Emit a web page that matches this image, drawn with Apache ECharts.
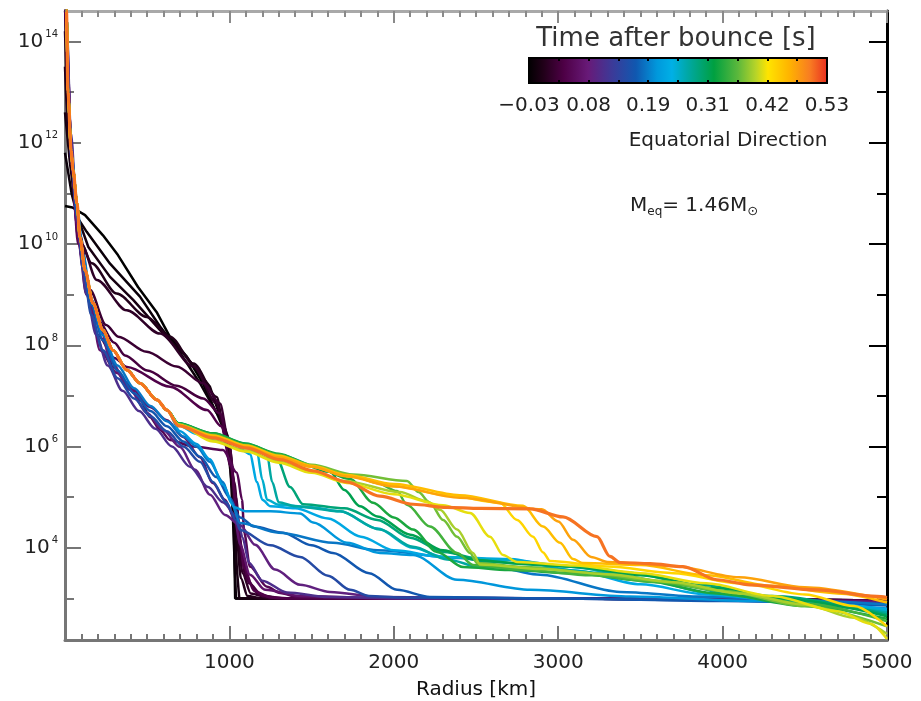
<!DOCTYPE html>
<html>
<head>
<meta charset="utf-8">
<script src="https://cdn.jsdelivr.net/npm/echarts@6/dist/echarts.min.js"></script>
<style>
  html, body { margin: 0; padding: 0; background: #fff; }
  #chart { width: 921px; height: 701px; }
</style>
</head>
<body>
<div id="chart"></div>
<script>
// Density profiles (equatorial direction) of a collapsing 1.46 Msun white dwarf.
// Each profile: [radius in km, log10 density]; colour encodes time after bounce.

// inner core shared by the late profiles
const lateCore = [[0,15.5],[9,14.6],[18,13.0],[37,11.85],[49,11.45],[73,10.8],[91,10.13],[122,9.48],[170,8.83],[231,8.30],[292,7.9],[377,7.51],[456,7.25],[560,6.92],[620,6.72]];

// collapse phase
const pM003 = [[0,10.75],[45,10.72],[122,10.57],[231,10.17],[322,9.78],[444,9.15],[560,8.64],[639,8.16],[742,7.77],[839,7.25],[912,6.72],[961,6.47],[1000,6.1],[1020,5.5],[1028,4.3],[1035,3.0],[3000,3.0],[5000,2.96]];
const pM002 = [[0,11.8],[40,11.0],[80,10.5],[132,10.24],[274,9.61],[456,8.96],[578,8.37],[689,7.91],[821,7.25],[923,6.66],[961,6.37],[1004,5.74],[1022,4.55],[1040,3.0],[3000,3.0],[5000,2.96]];
const pM001 = [[0,12.6],[30,11.6],[70,10.6],[142,9.94],[274,9.35],[416,8.89],[578,8.30],[740,7.77],[882,7.18],[943,6.59],[990,6.0],[1030,4.8],[1045,3.6],[1060,3.0],[3000,3.0],[5000,2.96]];
const p000 = [[0,13.5],[25,12.0],[60,10.8],[100,10.0],[162,9.62],[314,9.02],[497,8.56],[639,8.17],[781,7.64],[923,6.98],[967,6.33],[1010,5.6],[1040,4.4],[1070,3.4],[1110,3.05],[1200,3.0],[3000,3.0],[5000,2.96]];
const p001 = [[0,14.2],[20,12.8],[50,11.3],[100,10.0],[193,9.29],[375,8.69],[578,8.23],[781,7.58],[923,6.85],[965,6.4],[1010,5.7],[1045,4.5],[1080,3.5],[1130,3.1],[1250,3.0],[3000,3.0],[5000,2.96]];
const p002 = [[0,14.8],[18,13.0],[45,11.5],[90,10.2],[150,9.1],[250,8.4],[324,8.17],[497,7.87],[679,7.58],[841,7.25],[943,6.85],[990,6.2],[1030,5.3],[1060,4.2],[1100,3.4],[1180,3.08],[1300,3.0],[3000,3.0],[5000,2.96]];
const p003 = [[0,15.0],[15,13.5],[40,11.6],[80,10.2],[130,9.2],[200,8.5],[300,8.05],[365,7.8],[500,7.5],[680,7.2],[841,6.95],[943,6.65],[1000,6.0],[1040,5.0],[1070,4.0],[1120,3.3],[1200,3.05],[1350,3.0],[3000,3.0],[5000,2.96]];
const p004 = [[0,15.2],[15,13.6],[40,11.7],[80,10.1],[130,9.0],[200,8.2],[300,7.75],[377,7.57],[639,7.18],[864,6.72],[950,6.4],[1010,5.6],[1050,4.5],[1090,3.6],[1150,3.15],[1250,3.02],[1400,3.0],[3000,3.0],[5000,2.96]];

// bounce and early shock
const p005 = [[0,15.3],[15,13.7],[40,11.6],[80,10.0],[134,9.23],[170,8.56],[231,8.24],[292,7.57],[377,7.25],[456,6.92],[517,6.58],[578,6.33],[639,6.13],[780,6.0],[961,5.93],[1046,5.48],[1077,4.95],[1090,4.3],[1125,3.63],[1229,3.23],[1308,3.11],[1411,3.03],[2000,3.0],[3000,3.0],[5000,2.95]];
const p007 = [[0,15.4],[12,14.0],[35,12.0],[70,10.4],[110,9.5],[152,8.83],[213,7.9],[316,7.45],[414,7.12],[517,6.78],[620,6.52],[718,6.19],[821,5.79],[900,5.28],[973,4.95],[1034,4.55],[1065,4.06],[1125,3.47],[1217,3.17],[1430,3.05],[2000,3.0],[3000,3.0],[5000,2.94]];
const p009 = [[0,15.4],[12,14.1],[35,12.1],[70,10.5],[110,9.6],[160,8.9],[220,8.3],[274,7.71],[395,7.12],[499,6.66],[596,6.33],[700,5.99],[791,5.54],[882,5.05],[973,4.65],[1065,4.45],[1156,4.06],[1278,3.57],[1430,3.27],[1612,3.13],[1916,3.03],[3000,3.0],[5000,2.92]];
const p011 = [[0,15.5],[12,14.2],[35,12.2],[75,10.5],[130,9.0],[190,8.2],[260,7.6],[350,7.1],[450,6.7],[550,6.35],[650,6.0],[760,5.6],[870,5.2],[960,4.9],[1050,4.6],[1080,4.2],[1120,3.7],[1200,3.35],[1350,3.12],[1600,3.03],[2200,3.0],[3000,3.0],[5000,2.9]];
const p015 = [[0,15.5],[10,14.5],[20,12.9],[40,11.6],[75,10.5],[110,9.5],[160,8.6],[230,7.9],[320,7.35],[420,6.95],[520,6.6],[620,6.3],[720,6.0],[821,5.7],[900,5.3],[980,4.9],[1040,4.55],[1065,4.35],[1250,4.05],[1430,3.82],[1600,3.45],[1734,3.17],[1850,3.05],[2037,3.02],[3000,3.0],[4000,2.96],[5000,2.88]];
const p017 = [[0,15.5],[10,14.5],[20,12.9],[40,11.7],[75,10.6],[110,9.7],[160,8.8],[230,8.1],[320,7.5],[420,7.05],[520,6.7],[620,6.4],[720,6.1],[821,5.8],[920,5.4],[1000,5.0],[1065,4.6],[1150,4.42],[1326,4.3],[1500,4.05],[1630,3.9],[1850,3.5],[2020,3.17],[2220,3.03],[3000,3.0],[4000,2.95],[5000,2.86]];
const p019 = [[0,15.5],[10,14.5],[20,12.95],[40,11.75],[75,10.7],[110,9.8],[160,8.9],[230,8.2],[320,7.6],[420,7.15],[520,6.8],[620,6.5],[720,6.2],[800,6.0],[880,5.7],[960,5.3],[1010,4.9],[1065,4.49],[1300,4.3],[1630,4.1],[1900,3.95],[2403,3.8],[2890,3.47],[3376,3.13],[3863,3.04],[4400,2.97],[5000,2.88]];
const p021 = lateCore.concat([[700,6.3],[800,6.05],[880,5.75],[960,5.25],[1030,4.8],[1100,4.72],[1250,4.72],[1430,4.68],[1509,4.5],[1715,4.1],[1916,3.9],[2117,3.86],[2385,3.37],[2829,3.17],[3437,3.04],[4200,2.95],[5000,2.8]]);

// expanding shock, post-shock shell
const p023 = lateCore.concat([[690,6.42],[800,6.25],[900,6.12],[1065,5.95],[1125,5.85],[1168,5.3],[1200,4.95],[1250,4.82],[1400,4.78],[1600,4.58],[1800,4.22],[2000,3.95],[2300,3.82],[2700,3.78],[3100,3.55],[3500,3.28],[3900,3.08],[4400,2.95],[5000,2.78]]);
const p025 = lateCore.concat([[690,6.45],[900,6.2],[1100,5.98],[1168,5.9],[1200,5.35],[1229,4.95],[1300,4.85],[1500,4.8],[1673,4.72],[1900,4.38],[2117,4.0],[2300,3.82],[2700,3.76],[3100,3.62],[3500,3.38],[3966,3.08],[4500,2.9],[5000,2.75]]);
const p027 = lateCore.concat([[690,6.45],[900,6.22],[1100,6.02],[1229,5.85],[1260,5.3],[1300,4.9],[1400,4.82],[1673,4.72],[1916,4.36],[2117,4.02],[2324,3.77],[2524,3.62],[2900,3.6],[3300,3.5],[3700,3.3],[4100,3.05],[4600,2.85],[5000,2.72]]);
const p029 = lateCore.concat([[690,6.46],[900,6.24],[1100,6.04],[1290,5.75],[1369,5.2],[1448,4.86],[1700,4.78],[1900,4.55],[2100,4.2],[2300,3.92],[2600,3.72],[3000,3.64],[3400,3.52],[3863,3.27],[4300,3.05],[5000,2.68]]);
const p031 = lateCore.concat([[690,6.46],[900,6.26],[1100,6.06],[1300,5.84],[1612,5.5],[1700,5.14],[1794,4.82],[1900,4.62],[2100,4.26],[2300,3.95],[2500,3.76],[2800,3.68],[3100,3.63],[3500,3.46],[3966,3.2],[4400,2.98],[5000,2.65]]);
const p033 = lateCore.concat([[690,6.45],[900,6.26],[1100,6.05],[1300,5.86],[1500,5.62],[1734,5.36],[1874,4.89],[2000,4.6],[2117,4.36],[2263,3.92],[2421,3.62],[2700,3.56],[3100,3.5],[3500,3.36],[3966,3.1],[4500,2.85],[5000,2.6]]);
const p035 = lateCore.concat([[690,6.44],[900,6.24],[1100,6.03],[1300,5.84],[1500,5.62],[1752,5.42],[1900,5.28],[2020,5.12],[2080,4.85],[2220,4.42],[2385,3.9],[2482,3.66],[2800,3.56],[3200,3.46],[3600,3.32],[4000,3.15],[4500,2.9],[5000,2.55]]);
const p037 = lateCore.concat([[690,6.44],[900,6.22],[1100,6.02],[1300,5.82],[1500,5.64],[1752,5.45],[2080,5.32],[2150,5.1],[2220,4.89],[2300,4.55],[2385,4.22],[2464,3.9],[2506,3.7],[2800,3.62],[3200,3.5],[3600,3.35],[4000,3.15],[4500,2.85],[5000,2.45]]);
const p039 = lateCore.concat([[690,6.43],[900,6.12],[1100,5.92],[1300,5.7],[1500,5.5],[1700,5.32],[2037,5.1],[2200,4.92],[2281,4.75],[2385,4.36],[2482,3.9],[2524,3.67],[2900,3.58],[3300,3.48],[3700,3.32],[4100,3.1],[4500,2.88],[4800,2.62],[5000,2.3]]);
const p041 = lateCore.concat([[690,6.43],[900,6.1],[1100,5.9],[1300,5.68],[1500,5.48],[1715,5.28],[2000,5.06],[2300,4.84],[2464,4.69],[2585,4.22],[2664,3.86],[2750,3.72],[3100,3.65],[3500,3.5],[3900,3.3],[4300,3.05],[4700,2.75],[4900,2.5],[5000,2.2]]);
const p043 = lateCore.concat([[690,6.42],[900,6.2],[1100,6.0],[1300,5.8],[1500,5.6],[1715,5.42],[2000,5.22],[2324,5.04],[2646,4.89],[2750,4.55],[2847,4.22],[2908,3.91],[2950,3.74],[3300,3.63],[3700,3.5],[4100,3.3],[4500,3.08],[4800,2.85],[5000,2.45]]);
const p045 = lateCore.concat([[690,6.42],[900,6.22],[1100,6.02],[1300,5.82],[1500,5.62],[1715,5.44],[2000,5.26],[2400,5.04],[2786,4.83],[2908,4.42],[3011,4.1],[3090,3.78],[3150,3.7],[3500,3.66],[3900,3.46],[4300,3.25],[4700,3.1],[5000,2.92]]);
const p047 = lateCore.concat([[690,6.42],[900,6.19],[1100,5.99],[1300,5.79],[1500,5.6],[1715,5.41],[2000,5.21],[2400,4.99],[2900,4.76],[3000,4.52],[3090,4.16],[3200,3.82],[3300,3.72],[3700,3.64],[4100,3.42],[4500,3.22],[5000,2.98]]);
const p050 = lateCore.concat([[690,6.41],[900,6.17],[1107,5.97],[1308,5.74],[1509,5.52],[1715,5.3],[1916,5.02],[2117,4.86],[2324,4.8],[2524,4.78],[2829,4.77],[3029,4.61],[3236,4.22],[3315,3.83],[3376,3.71],[3559,3.69],[3759,3.63],[3966,3.37],[4167,3.27],[4574,3.17],[4939,3.04],[5000,3.02]]);

// times after bounce [s] and their profiles, in drawing order
const profileTimes = [-0.03,-0.02,-0.01,0.0,0.01,0.02,0.03,0.04,0.05,0.07,0.09,0.11,0.15,0.17,0.19,0.21,0.23,0.25,0.27,0.29,0.31,0.33,0.35,0.37,0.39,0.41,0.43,0.45,0.47,0.50];
const profileData = [pM003,pM002,pM001,p000,p001,p002,p003,p004,p005,p007,p009,p011,p015,p017,p019,p021,p023,p025,p027,p029,p031,p033,p035,p037,p039,p041,p043,p045,p047,p050];

// axis ticks (log10 density) and colour-bar labels
const yMajorExp = [4,6,8,10,12,14];
const yMinorExp = [3,5,7,9,11,13];
const colorbarLabels = ['\u22120.03','','0.08','','0.19','','0.31','','0.42','','0.53'];
const tMin = -0.03, tMax = 0.53;

// colour table
const cmapStops = [
  [0.00,'#000000'],[0.05,'#200018'],[0.12,'#4e0046'],[0.20,'#681a78'],
  [0.28,'#3c3a98'],[0.36,'#1058b0'],[0.43,'#0098dc'],[0.48,'#00b0e6'],
  [0.53,'#00a8a8'],[0.62,'#00a040'],[0.70,'#5cb83c'],[0.76,'#b8d428'],
  [0.80,'#ffe400'],[0.87,'#ffb400'],[0.94,'#f87c22'],[1.00,'#e82c20']
];
function hexToRgb(h){ return [parseInt(h.slice(1,3),16),parseInt(h.slice(3,5),16),parseInt(h.slice(5,7),16)]; }
function cmap(f){
  f = Math.max(0, Math.min(1, f));
  for (let i = 1; i < cmapStops.length; i++) {
    if (f <= cmapStops[i][0]) {
      const a = cmapStops[i-1], b = cmapStops[i];
      const u = (f - a[0]) / (b[0] - a[0]);
      const ca = hexToRgb(a[1]), cb = hexToRgb(b[1]);
      const c = ca.map((v, k) => Math.round(v + (cb[k] - v) * u));
      return 'rgb(' + c.join(',') + ')';
    }
  }
  return cmapStops[cmapStops.length-1][1];
}

const FONT = '"DejaVu Sans", sans-serif';
const yMin = 2.18, yMax = 14.6;

const chart = echarts.init(document.getElementById('chart'), null, {renderer: 'canvas'});

const lastIdx = profileData.length - 1;
const series = profileData.map((d, i) => ({
  type: 'line',
  xAxisIndex: 0,
  yAxisIndex: 0,
  data: d,
  showSymbol: false,
  symbol: 'none',
  smooth: i < 3 ? false : 0.3,
  smoothMonotone: 'x',
  silent: true,
  lineStyle: { color: cmap((profileTimes[i] - tMin) / (tMax - tMin)), width: i === lastIdx ? 3.2 : 2.5 },
  z: 2 + i
}));

const gradStops = cmapStops.map(s => ({ offset: s[0], color: s[1] }));

const yAxisBase = {
  gridIndex: 0, type: 'value', min: yMin, max: yMax,
  splitLine: { show: false }
};

chart.setOption({
  animation: false,
  backgroundColor: '#ffffff',
  grid: [
    { left: 65, top: 11, width: 822, height: 629, containLabel: false, outerBoundsMode: 'none' },
    { left: 529, top: 58, width: 298, height: 25, show: true, outerBoundsMode: 'none',
      borderColor: '#000', borderWidth: 2,
      backgroundColor: new echarts.graphic.LinearGradient(0, 0, 1, 0, gradStops) }
  ],
  xAxis: [
    { gridIndex: 0, type: 'value', min: 0, max: 5000, interval: 1000, position: 'bottom',
      axisLine: { lineStyle: { color: '#767676', width: 3 } },
      axisTick: { inside: true, length: 14, lineStyle: { color: '#767676', width: 2 } },
      minorTick: { show: true, splitNumber: 10, length: 6, lineStyle: { color: '#767676', width: 2 } },
      axisLabel: { margin: 13, fontFamily: FONT, fontSize: 20, color: '#222',
        formatter: v => (v === 0 ? '' : String(v)) },
      splitLine: { show: false },
      name: 'Radius [km]', nameLocation: 'middle', nameGap: 40,
      nameTextStyle: { fontFamily: FONT, fontSize: 20, color: '#111' } },
    { gridIndex: 0, type: 'value', min: 0, max: 5000, interval: 1000, position: 'top',
      axisLine: { lineStyle: { color: '#a9a9a9', width: 3 } },
      axisTick: { inside: true, length: 12, lineStyle: { color: '#8a8a8a', width: 2 } },
      minorTick: { show: true, splitNumber: 10, length: 6, lineStyle: { color: '#8a8a8a', width: 2 } },
      axisLabel: { show: false }, splitLine: { show: false } },
    { gridIndex: 1, type: 'category', boundaryGap: false, data: colorbarLabels, position: 'bottom',
      axisLine: { show: false },
      axisTick: { inside: true, length: 3, interval: 0, lineStyle: { color: '#000', width: 2 } },
      axisLabel: { interval: 0, margin: 13, fontFamily: FONT, fontSize: 20, color: '#222' },
      splitLine: { show: false } },
    { gridIndex: 1, type: 'category', boundaryGap: false, data: colorbarLabels, position: 'top',
      axisLine: { show: false },
      axisTick: { inside: true, length: 3, interval: 0, lineStyle: { color: '#000', width: 2 } },
      axisLabel: { show: false }, splitLine: { show: false } }
  ],
  yAxis: [
    Object.assign({}, yAxisBase, { position: 'left',
      axisLine: { lineStyle: { color: '#767676', width: 3 } },
      axisTick: { inside: true, length: 16, customValues: yMajorExp, lineStyle: { color: '#767676', width: 2 } },
      axisLabel: { customValues: yMajorExp, margin: 7, formatter: v => '{b|10}{s|' + v + '}',
        rich: {
          b: { fontFamily: FONT, fontSize: 20, color: '#222', lineHeight: 24 },
          s: { fontFamily: FONT, fontSize: 10, color: '#222', lineHeight: 8, verticalAlign: 'top', padding: [0, 0, 0, 2] }
        } } }),
    Object.assign({}, yAxisBase, { position: 'left',
      axisLine: { show: false },
      axisTick: { inside: true, length: 9, customValues: yMinorExp, lineStyle: { color: '#767676', width: 2 } },
      axisLabel: { show: false } }),
    Object.assign({}, yAxisBase, { position: 'right',
      axisLine: { lineStyle: { color: '#000', width: 3 } },
      axisTick: { inside: true, length: 18, customValues: yMajorExp, lineStyle: { color: '#000', width: 2 } },
      axisLabel: { show: false } }),
    Object.assign({}, yAxisBase, { position: 'right',
      axisLine: { show: false },
      axisTick: { inside: true, length: 10, customValues: yMinorExp, lineStyle: { color: '#000', width: 2 } },
      axisLabel: { show: false } }),
    { gridIndex: 1, type: 'value', min: 0, max: 1, show: false }
  ],
  graphic: [
    { type: 'text', x: 676, y: 39, silent: true,
      style: { text: 'Time after bounce [s]', font: '26px ' + FONT, fill: '#333', align: 'center', verticalAlign: 'middle' } },
    { type: 'text', x: 728, y: 141, silent: true,
      style: { text: 'Equatorial Direction', font: '20px ' + FONT, fill: '#222', align: 'center', verticalAlign: 'middle' } },
    { type: 'text', x: 630, y: 206, silent: true,
      style: {
        text: '{m|M}{s|eq}{m|= 1.46M}{o|\u2299}',
        align: 'left', verticalAlign: 'middle',
        rich: {
          m: { fontFamily: FONT, fontSize: 20, fill: '#222', lineHeight: 24 },
          s: { fontFamily: FONT, fontSize: 12, fill: '#222', lineHeight: 8, verticalAlign: 'bottom' },
          o: { fontFamily: FONT, fontSize: 13, fill: '#222', lineHeight: 8, verticalAlign: 'bottom' }
        }
      } }
  ],
  series: series
});
</script>
</body>
</html>
